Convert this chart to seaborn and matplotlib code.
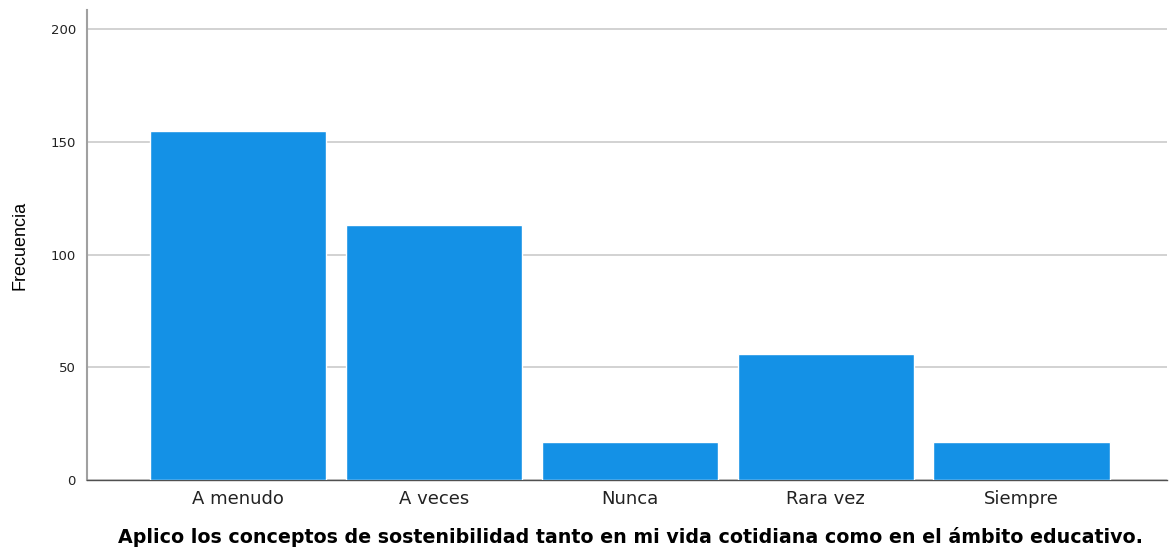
import matplotlib
matplotlib.use("Agg")
import matplotlib.pyplot as plt
import seaborn as sns
import pandas as pd

categories = ["A menudo", "A veces", "Nunca", "Rara vez", "Siempre"]
frequencies = [155, 113, 17, 56, 17]
y_ticks = [0, 50, 100, 150, 200]

sns.set_theme(style="white")
plt.rcParams['font.family'] = ['DejaVu Sans']

df = pd.DataFrame({"cat": categories, "freq": frequencies})

fig = plt.figure(figsize=(11.69, 5.5), dpi=100)
ax = fig.add_axes([0.0744, 0.1273, 0.9236, 0.8545])

sns.barplot(data=df, x="cat", y="freq", color="#1491E6", saturation=1,
            width=0.9, ax=ax, zorder=3)

ax.set_xlim(-0.77, 4.74)
ax.set_ylim(0, 208.5)
ax.set_yticks(y_ticks)
ax.set_yticklabels([str(t) for t in y_ticks], fontsize=9.5, color="#222222")
ax.tick_params(axis="x", labelsize=13, colors="#222222", length=0, pad=7)
ax.tick_params(axis="y", length=0, pad=8)
ax.yaxis.grid(True, color="#cfcfcf", linewidth=1.3, zorder=0)
ax.set_axisbelow(True)

for s in ["top", "right"]:
    ax.spines[s].set_visible(False)
ax.spines["left"].set_color("#a0a0a0")
ax.spines["left"].set_linewidth(1.5)
ax.spines["bottom"].set_color("#505050")
ax.spines["bottom"].set_linewidth(1.0)

ax.set_xlabel("Aplico los conceptos de sostenibilidad tanto en mi vida cotidiana como en el ámbito educativo.",
              fontsize=13.7, fontweight="bold", color="black")
ax.set_ylabel("Frecuencia", fontsize=13, color="black", family=["Liberation Sans Narrow", "Liberation Sans"])
ax.xaxis.set_label_coords(0.503, -0.100)
ax.yaxis.set_label_coords(-0.054, 0.5)

fig.savefig("out.png", dpi=100)
